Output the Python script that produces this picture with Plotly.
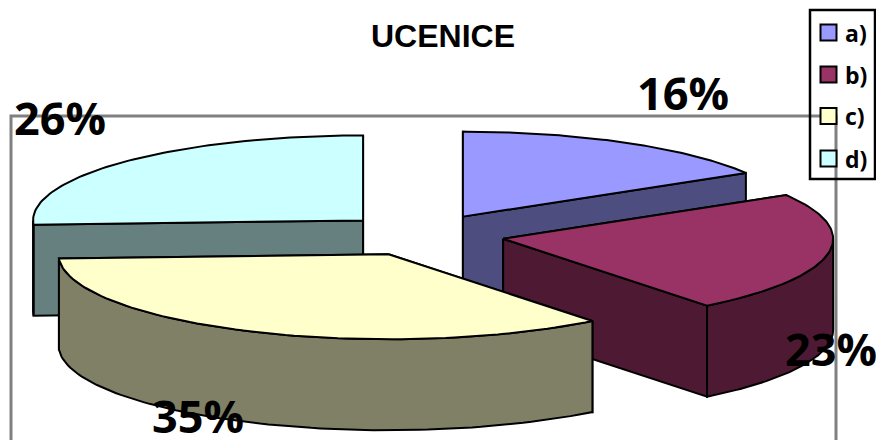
import math
import plotly.graph_objects as go

categories = ["a)", "b)", "c)", "d)"]
values = [16.4, 23.0, 34.8, 25.8]
labels = ["16%", "23%", "35%", "26%"]
top_colors = ["#9999FF", "#993366", "#FFFFCC", "#CCFFFF"]
side_colors = ["#4D4D80", "#4D1933", "#808066", "#668080"]

W, H = 876, 440
CX, CY = 422.5, 235        # pie centre in picture pixels
RX, RY = 330, 85           # ellipse radii of the top face
DEPTH = 91                 # extrusion height
EXPLODE = 82               # explosion distance, along the x radius
LABEL_POS = [(683, 92), (831, 348), (198, 415), (60, 117)]
KEY_X, KEY_YS, TEXT_X = 828.5, [32.5, 74.5, 116, 158.5], 843
DRAW_ORDER = [3, 0, 1, 2]  # back slices first

fig = go.Figure()


def add_poly(xs, ys, color):
    fig.add_trace(go.Scatter(
        x=xs, y=ys, mode="lines", fill="toself", fillcolor=color,
        line=dict(color="black", width=2), hoverinfo="skip", showlegend=False))


def rim(ax, ay, a0, a1, n=80):
    angs = [a0 + (a1 - a0) * i / n for i in range(n + 1)]
    return ([ax + RX * math.sin(a) for a in angs],
            [ay - RY * math.cos(a) for a in angs])


total = sum(values)
slices = []
cum = 0
for val, top, side in zip(values, top_colors, side_colors):
    slices.append((2 * math.pi * cum / total, 2 * math.pi * (cum + val) / total, top, side))
    cum += val

for idx in DRAW_ORDER:
    a0, a1, top, side = slices[idx]
    mid = (a0 + a1) / 2
    ax = CX + EXPLODE * math.sin(mid)
    ay = CY - EXPLODE * RY / RX * math.cos(mid)

    # radial cut faces
    for a in (a0, a1):
        ex, ey = ax + RX * math.sin(a), ay - RY * math.cos(a)
        add_poly([ax, ex, ex, ax, ax], [ay, ey, ey + DEPTH, ay + DEPTH, ay], side)

    # outer wall (front half of the rim only)
    w0, w1 = max(a0, math.pi / 2), min(a1, 3 * math.pi / 2)
    if w1 > w0:
        rx, ry = rim(ax, ay, w0, w1)
        add_poly(rx + rx[::-1] + rx[:1], ry + [y + DEPTH for y in ry[::-1]] + ry[:1], side)

    # top face
    rx, ry = rim(ax, ay, a0, a1)
    add_poly([ax] + rx + [ax], [ay] + ry + [ay], top)

# legend
fig.add_trace(go.Scatter(
    x=[KEY_X] * len(categories), y=KEY_YS, mode="markers",
    marker=dict(symbol="square", size=16, color=top_colors,
                line=dict(color="black", width=2)),
    hoverinfo="skip", showlegend=False))

anns = [dict(x=TEXT_X, y=y, text=f"<b>{c}</b>", xanchor="left", yanchor="middle",
             showarrow=False, font=dict(family="Open Sans", size=23, color="black"))
        for c, y in zip(categories, KEY_YS)]
anns += [dict(x=x, y=y, text=f"<b>{t}</b>", xanchor="center", yanchor="middle",
              showarrow=False, font=dict(family="Open Sans", size=45, color="black"))
         for t, (x, y) in zip(labels, LABEL_POS)]
anns.append(dict(x=443, y=36, text="<b>UCENICE</b>", xanchor="center", yanchor="middle",
                 showarrow=False,
                 font=dict(family="Liberation Sans", size=32, color="black")))

fig.update_layout(
    width=W, height=H, margin=dict(l=0, r=0, t=0, b=0),
    paper_bgcolor="white", plot_bgcolor="white", showlegend=False,
    xaxis=dict(range=[0, W], visible=False, fixedrange=True),
    yaxis=dict(range=[H, 0], visible=False, fixedrange=True),
    annotations=anns,
    shapes=[
        dict(type="rect", x0=11, x1=836, y0=116, y1=460, layer="below",
             line=dict(color="#808080", width=3)),
        dict(type="rect", x0=810, x1=875, y0=10, y1=179, layer="above",
             line=dict(color="black", width=2.5)),
    ],
)

fig.write_html("out.html", config={"displayModeBar": False},
               post_script="document.body.style.margin='0';document.documentElement.style.overflow='hidden';")
